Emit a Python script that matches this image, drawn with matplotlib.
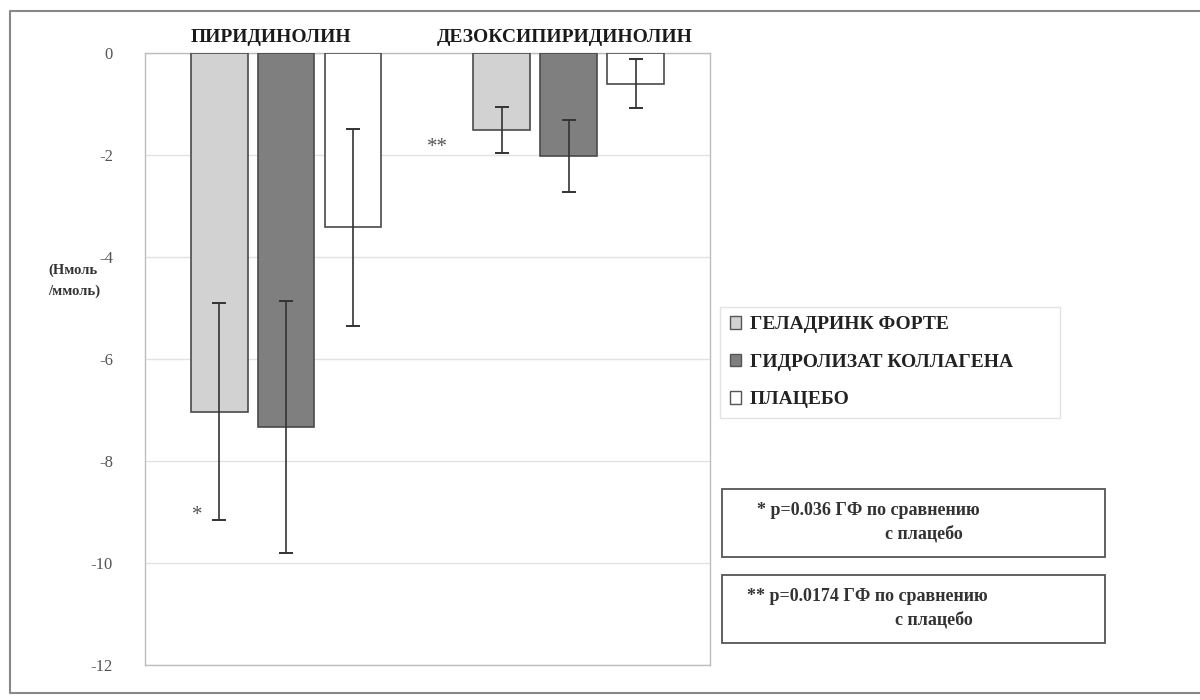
#!/usr/bin/env python

import numpy as np
import matplotlib.pyplot as plt
from matplotlib.patches import Rectangle, Patch
from matplotlib.lines import Line2D

plt.rcParams['font.family'] = ['Liberation Serif', 'DejaVu Serif']

# data
categories = ['ПИРИДИНОЛИН', 'ДЕЗОКСИПИРИДИНОЛИН']
series = ['ГЕЛАДРИНК ФОРТЕ', 'ГИДРОЛИЗАТ КОЛЛАГЕНА', 'ПЛАЦЕБО']
values = [
    [-7.03, -1.51],   # geladrink forte
    [-7.33, -2.02],   # collagen hydrolysate
    [-3.42, -0.60],   # placebo
]
errors = [
    [2.13, 0.46],
    [2.47, 0.70],
    [1.93, 0.48],
]
fills = ['#d2d2d2', '#7f7f7f', '#ffffff']
yticks = [0, -2, -4, -6, -8, -10, -12]

fig = plt.figure(figsize=(12, 7), dpi=100)
ax = fig.add_axes([0.1208, 0.05, 0.4708, 0.8743])

x = np.arange(len(categories))
width = 0.2
step = 0.237
for i, (vals, errs, fc) in enumerate(zip(values, errors, fills)):
    pos = x + (i - 1) * step
    ax.bar(pos, vals, width, color=fc, edgecolor='#4a4a4a', linewidth=1.2,
           label=series[i], zorder=3)
    ax.errorbar(pos, vals, yerr=errs, fmt='none', ecolor='#333333',
                elinewidth=1.2, capsize=5, capthick=1.4, zorder=4)

ax.set_xlim(-0.5, 1.5)
ax.set_ylim(-12, 0)
ax.set_yticks(yticks)
ax.set_yticklabels([str(t) for t in yticks], color='#555555', fontsize=12)
ax.tick_params(axis='y', length=0, pad=23)
ax.set_xticks([])
ax.grid(axis='y', color='#e2e2e2', linewidth=1, zorder=0)
for s in ax.spines.values():
    s.set_color('#bdbdbd')
    s.set_linewidth(1)

# category titles above plot
for xi, cat in zip([-0.055, 0.985], categories):
    ax.text(xi, 1.012, cat, transform=ax.get_xaxis_transform(), ha='center',
            va='bottom', fontsize=14, fontweight='bold', color='#1a1a1a')

# significance marks
ax.text(-0.316, -9.06, '*', ha='center', va='center', fontsize=15, color='#555555')
ax.text(0.534, -1.86, '**', ha='center', va='center', fontsize=15, color='#555555')

# y-axis unit label
fig.text(0.04, 0.599, '(Нмоль\n/ммоль)', ha='left', va='center', fontsize=10.5,
         fontweight='bold', color='#333333', linespacing=1.7)

# legend
handles = [Patch(facecolor=fc, edgecolor='#555555', label=s)
           for fc, s in zip(fills, series)]
leg = fig.legend(handles=handles, loc='upper left', mode='expand',
                 bbox_to_anchor=(0.600, 0.562, 0.283, 0.0), frameon=True,
                 fancybox=False, prop={'weight': 'bold', 'size': 14},
                 handlelength=0.6, handleheight=0.6, handletextpad=0.45,
                 labelspacing=1.05, borderpad=0.5, borderaxespad=0,
                 edgecolor='#dcdcdc')
leg.get_frame().set_linewidth(1)
for t in leg.get_texts():
    t.set_color('#222222')

# p-value boxes
notes = [(0.204, 0.631, 0.7375, '* p=0.036 ГФ по сравнению'),
         (0.081, 0.6225, 0.746, '** p=0.0174 ГФ по сравнению')]
for y0, x1, x2, line1 in notes:
    fig.patches.append(Rectangle((0.6017, y0), 0.319, 0.097, transform=fig.transFigure,
                                 fill=False, edgecolor='#555555', linewidth=1.3))
    fig.text(x1, y0 + 0.0665, line1, ha='left', va='center', fontsize=13,
             fontweight='bold', color='#333333')
    fig.text(x2, y0 + 0.033, 'с плацебо', ha='left', va='center',
             fontsize=13, fontweight='bold', color='#333333')

# outer frame (left, top, bottom)
fig.add_artist(Line2D([1.0, 0.0083, 0.0083, 1.0], [0.985, 0.985, 0.01, 0.01],
                      transform=fig.transFigure, color='#888888', linewidth=1.5))

fig.savefig('out.png', dpi=100)
